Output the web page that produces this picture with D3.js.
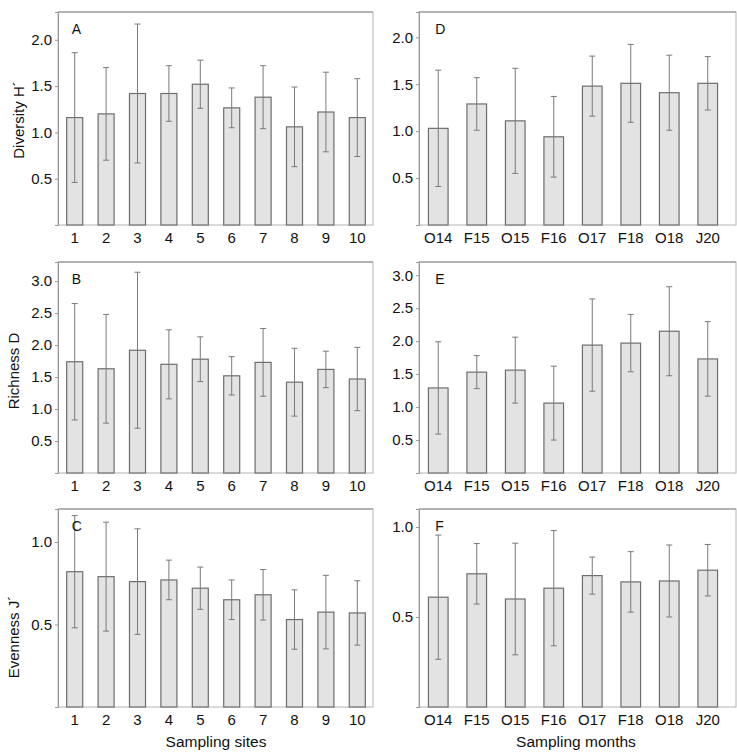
<!DOCTYPE html>
<html>
<head>
<meta charset="utf-8">
<script src="https://cdn.jsdelivr.net/npm/d3@7"></script>
<style>
  body { margin: 0; background: #fff; }
  svg { display: block; font-family: 'Liberation Sans', Arial, sans-serif; }
  .tick text { fill: #111; }
</style>
</head>
<body>
<svg width="737" height="754"></svg>
<script>
// categories
const sites = ['1', '2', '3', '4', '5', '6', '7', '8', '9', '10'];
const months = ['O14', 'F15', 'O15', 'F16', 'O17', 'F18', 'O18', 'J20'];

// diversity H'
const diversitySitesMean = [1.16, 1.20, 1.42, 1.42, 1.52, 1.265, 1.38, 1.06, 1.22, 1.16];
const diversitySitesSD = [0.70, 0.50, 0.75, 0.30, 0.26, 0.215, 0.34, 0.43, 0.43, 0.42];
const diversityMonthsMean = [1.03, 1.29, 1.11, 0.94, 1.48, 1.51, 1.41, 1.51];
const diversityMonthsSD = [0.62, 0.28, 0.56, 0.43, 0.32, 0.415, 0.40, 0.285];

// richness D
const richnessSitesMean = [1.74, 1.63, 1.92, 1.70, 1.78, 1.52, 1.73, 1.42, 1.62, 1.47];
const richnessSitesSD = [0.91, 0.85, 1.22, 0.54, 0.35, 0.30, 0.53, 0.53, 0.285, 0.495];
const richnessMonthsMean = [1.29, 1.53, 1.56, 1.06, 1.94, 1.97, 2.15, 1.73];
const richnessMonthsSD = [0.70, 0.25, 0.50, 0.56, 0.70, 0.435, 0.675, 0.565];

// evenness J'
const evennessSitesMean = [0.82, 0.79, 0.76, 0.77, 0.72, 0.65, 0.68, 0.53, 0.575, 0.57];
const evennessSitesSD = [0.34, 0.33, 0.32, 0.12, 0.128, 0.12, 0.153, 0.18, 0.223, 0.195];
const evennessMonthsMean = [0.61, 0.74, 0.60, 0.66, 0.73, 0.695, 0.70, 0.76];
const evennessMonthsSD = [0.345, 0.168, 0.31, 0.32, 0.103, 0.168, 0.20, 0.143];

// tick labels
const diversityTicks = [0.5, 1.0, 1.5, 2.0];
const richnessTicks = [0.5, 1.0, 1.5, 2.0, 2.5, 3.0];
const evennessTicks = [0.5, 1.0];

const svg = d3.select('svg');

const cols = [
  {left: 58, right: 373, band: [59, 373]},
  {left: 419, right: 736, band: [419, 727]}
];
const rows = [
  {top: 12, bottom: 225, mid: 120},
  {top: 262, bottom: 473, mid: 371},
  {top: 509, bottom: 707, mid: 637}
];

const panels = [
  {id: 'A', col: 0, row: 0, cats: sites, mean: diversitySitesMean, sd: diversitySitesSD, ticks: diversityTicks, max: 2.3, title: 'Diversity H\u00b4'},
  {id: 'B', col: 0, row: 1, cats: sites, mean: richnessSitesMean, sd: richnessSitesSD, ticks: richnessTicks, max: 3.3, title: 'Richness D'},
  {id: 'C', col: 0, row: 2, cats: sites, mean: evennessSitesMean, sd: evennessSitesSD, ticks: evennessTicks, max: 1.2, title: 'Evenness J\u00b4'},
  {id: 'D', col: 1, row: 0, cats: months, mean: diversityMonthsMean, sd: diversityMonthsSD, ticks: diversityTicks, max: 2.27},
  {id: 'E', col: 1, row: 1, cats: months, mean: richnessMonthsMean, sd: richnessMonthsSD, ticks: richnessTicks, max: 3.2},
  {id: 'F', col: 1, row: 2, cats: months, mean: evennessMonthsMean, sd: evennessMonthsSD, ticks: evennessTicks, max: 1.1}
];

panels.forEach(p => {
  const c = cols[p.col];
  const r = rows[p.row];
  const data = p.cats.map((k, i) => ({key: k, mean: p.mean[i], sd: p.sd[i]}));

  const x = d3.scaleBand().domain(p.cats).range(c.band)
    .paddingInner(0.49).paddingOuter(0.245);
  const y = d3.scaleLinear().domain([0, p.max]).range([r.bottom, r.top]);

  const g = svg.append('g');

  // frame
  g.append('rect')
    .attr('x', c.left).attr('y', r.top)
    .attr('width', c.right - c.left).attr('height', r.bottom - r.top)
    .attr('fill', 'none').attr('stroke', '#b4b4b4');
  g.append('line')
    .attr('x1', c.left).attr('x2', c.right)
    .attr('y1', r.top).attr('y2', r.top)
    .attr('stroke', '#8c8c8c');

  // y axis
  const ya = g.append('g')
    .attr('transform', `translate(${c.left},0)`)
    .call(d3.axisLeft(y).tickValues(p.ticks).tickFormat(d3.format('.1f')).tickSize(3).tickPadding(3));
  ya.select('.domain').attr('stroke', '#999');
  ya.selectAll('.tick line').attr('stroke', '#999');
  ya.selectAll('.tick text').attr('font-size', 15);

  // x axis
  const xa = g.append('g')
    .attr('transform', `translate(0,${r.bottom})`)
    .call(d3.axisBottom(x).tickSize(0).tickPadding(7));
  xa.select('.domain').remove();
  xa.selectAll('.tick text').attr('font-size', 15);

  // bars
  g.selectAll('.bar')
    .data(data)
    .enter()
    .append('rect')
    .attr('class', 'bar')
    .attr('x', d => x(d.key))
    .attr('y', d => y(d.mean))
    .attr('width', x.bandwidth())
    .attr('height', d => r.bottom - y(d.mean))
    .attr('fill', '#e3e3e3')
    .attr('stroke', '#6e6e6e')
    .attr('stroke-width', 1.2);

  // error bars
  const eb = g.selectAll('.err')
    .data(data)
    .enter()
    .append('g')
    .attr('class', 'err')
    .attr('stroke', '#7a7a7a')
    .attr('stroke-width', 1);
  const cx = d => x(d.key) + x.bandwidth() / 2;
  eb.append('line')
    .attr('x1', cx).attr('x2', cx)
    .attr('y1', d => y(d.mean + d.sd))
    .attr('y2', d => y(d.mean - d.sd));
  eb.append('line')
    .attr('x1', d => cx(d) - 3).attr('x2', d => cx(d) + 3)
    .attr('y1', d => y(d.mean + d.sd)).attr('y2', d => y(d.mean + d.sd));
  eb.append('line')
    .attr('x1', d => cx(d) - 3).attr('x2', d => cx(d) + 3)
    .attr('y1', d => y(d.mean - d.sd)).attr('y2', d => y(d.mean - d.sd));

  // panel letter
  g.append('text')
    .attr('x', cx(data[0]) - 3)
    .attr('y', r.top + 22)
    .attr('font-size', 14)
    .attr('fill', '#111')
    .text(p.id);

  if (p.title) {
    svg.append('text')
      .attr('transform', `translate(${p.row === 0 ? 24 : 19},${r.mid}) rotate(-90)`)
      .attr('text-anchor', 'middle')
      .attr('font-size', 15)
      .attr('fill', '#111')
      .text(p.title);
  }
});

svg.append('text')
  .attr('x', 216).attr('y', 747)
  .attr('text-anchor', 'middle')
  .attr('font-size', 15.5)
  .attr('fill', '#111')
  .text('Sampling sites');

svg.append('text')
  .attr('x', 576).attr('y', 747)
  .attr('text-anchor', 'middle')
  .attr('font-size', 15.5)
  .attr('fill', '#111')
  .text('Sampling months');
</script>
</body>
</html>
